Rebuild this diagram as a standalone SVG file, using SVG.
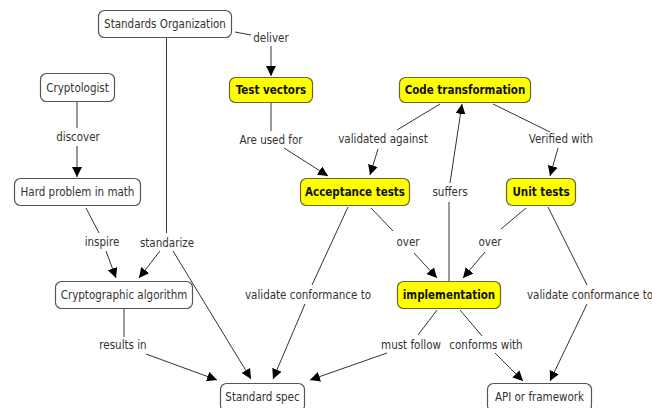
<svg xmlns="http://www.w3.org/2000/svg" width="652" height="408" viewBox="0 0 652 408">
<defs>
<marker id="ah" viewBox="0 0 10 10" refX="10" refY="5" markerWidth="10" markerHeight="10" markerUnits="userSpaceOnUse" orient="auto">
<path d="M0,0 L10,5 L0,10 Z" fill="#000"/>
</marker>
<style>
.n rect{fill:#fff;stroke:#555;stroke-width:1.2}
.y rect{fill:#ffff00;stroke:#666633;stroke-width:1.2}
text{font-family:"DejaVu Sans Condensed","DejaVu Sans",sans-serif;font-size:11.5px;fill:#333;text-anchor:middle;dominant-baseline:central}
.y text{font-weight:bold;fill:#111}
.c line{stroke:#333;stroke-width:1}
.c .a{marker-end:url(#ah)}
</style>
</defs>
<rect width="652" height="408" fill="#fff"/>
<g class="c">
<line x1="235" y1="32" x2="251" y2="35"/>
<line class="a" x1="271" y1="46" x2="271" y2="76"/>
<line x1="166.5" y1="37" x2="166.5" y2="233"/>
<line class="a" x1="160" y1="251" x2="139" y2="278"/>
<line class="a" x1="173" y1="251" x2="251" y2="379"/>
<line x1="77" y1="101" x2="77" y2="128"/>
<line class="a" x1="77" y1="146" x2="77" y2="177"/>
<line x1="86" y1="208" x2="99" y2="233"/>
<line class="a" x1="106" y1="251" x2="116" y2="278"/>
<line x1="124" y1="309" x2="124" y2="337"/>
<line class="a" x1="146" y1="354" x2="217" y2="380"/>
<line x1="271" y1="103" x2="271" y2="131"/>
<line class="a" x1="284" y1="148" x2="328" y2="176"/>
<line x1="440" y1="104" x2="397" y2="130"/>
<line class="a" x1="378" y1="149" x2="370" y2="175"/>
<line x1="493" y1="104" x2="550" y2="132"/>
<line class="a" x1="558" y1="148" x2="550" y2="176"/>
<line x1="449" y1="281" x2="449" y2="202"/>
<line class="a" x1="450" y1="183" x2="462" y2="104"/>
<line x1="371" y1="208" x2="393" y2="231"/>
<line class="a" x1="414" y1="253" x2="437" y2="278"/>
<line x1="526" y1="208" x2="501" y2="229"/>
<line class="a" x1="485" y1="252" x2="463" y2="278"/>
<line x1="348" y1="207" x2="312" y2="285"/>
<line class="a" x1="305" y1="304" x2="273" y2="379"/>
<line x1="437" y1="310" x2="418" y2="335"/>
<line class="a" x1="387" y1="353" x2="310" y2="380"/>
<line x1="460" y1="310" x2="482" y2="336"/>
<line class="a" x1="495" y1="353" x2="523" y2="381"/>
<line x1="548" y1="207" x2="587" y2="285"/>
<line class="a" x1="587" y1="304" x2="550" y2="381"/>
</g>
<g id="labels">
<text x="271" y="38">deliver</text>
<text x="78" y="137">discover</text>
<text x="271" y="140">Are used for</text>
<text x="383" y="139">validated against</text>
<text x="561" y="139">Verified with</text>
<text x="450" y="192">suffers</text>
<text x="102" y="242">inspire</text>
<text x="167" y="243">standarize</text>
<text x="408" y="242">over</text>
<text x="490" y="242">over</text>
<text x="308" y="295">validate conformance to</text>
<text x="590" y="295">validate conformance to</text>
<text x="123" y="345">results in</text>
<text x="411" y="345">must follow</text>
<text x="486" y="345">conforms with</text>
</g>
<g id="standards-organization" class="n"><rect x="98.5" y="10.5" width="133" height="27" rx="6"/><text x="165" y="24">Standards Organization</text></g>
<g id="cryptologist" class="n"><rect x="40.5" y="73.5" width="74" height="28" rx="6"/><text x="77.5" y="87.5">Cryptologist</text></g>
<g id="test-vectors" class="y"><rect x="229.5" y="77.5" width="83" height="25" rx="6"/><text x="271" y="90">Test vectors</text></g>
<g id="code-transformation" class="y"><rect x="399.5" y="77.5" width="131" height="25" rx="6"/><text x="465" y="90">Code transformation</text></g>
<g id="hard-problem" class="n"><rect x="14.5" y="178.5" width="126" height="27" rx="6"/><text x="77.5" y="192">Hard problem in math</text></g>
<g id="acceptance-tests" class="y"><rect x="300.5" y="178.5" width="109" height="27" rx="6"/><text x="355" y="192">Acceptance tests</text></g>
<g id="unit-tests" class="y"><rect x="506.5" y="178.5" width="69" height="27" rx="6"/><text x="541" y="192">Unit tests</text></g>
<g id="cryptographic-algorithm" class="n"><rect x="55.5" y="281.5" width="137" height="27" rx="6"/><text x="124" y="295">Cryptographic algorithm</text></g>
<g id="implementation" class="y"><rect x="397.5" y="281.5" width="103" height="27" rx="6"/><text x="449" y="295">implementation</text></g>
<g id="standard-spec" class="n"><rect x="220.5" y="383.5" width="84" height="28" rx="6"/><text x="262.5" y="397">Standard spec</text></g>
<g id="api-or-framework" class="n"><rect x="487.5" y="383.5" width="104" height="28" rx="6"/><text x="539.5" y="397">API or framework</text></g>
</svg>
